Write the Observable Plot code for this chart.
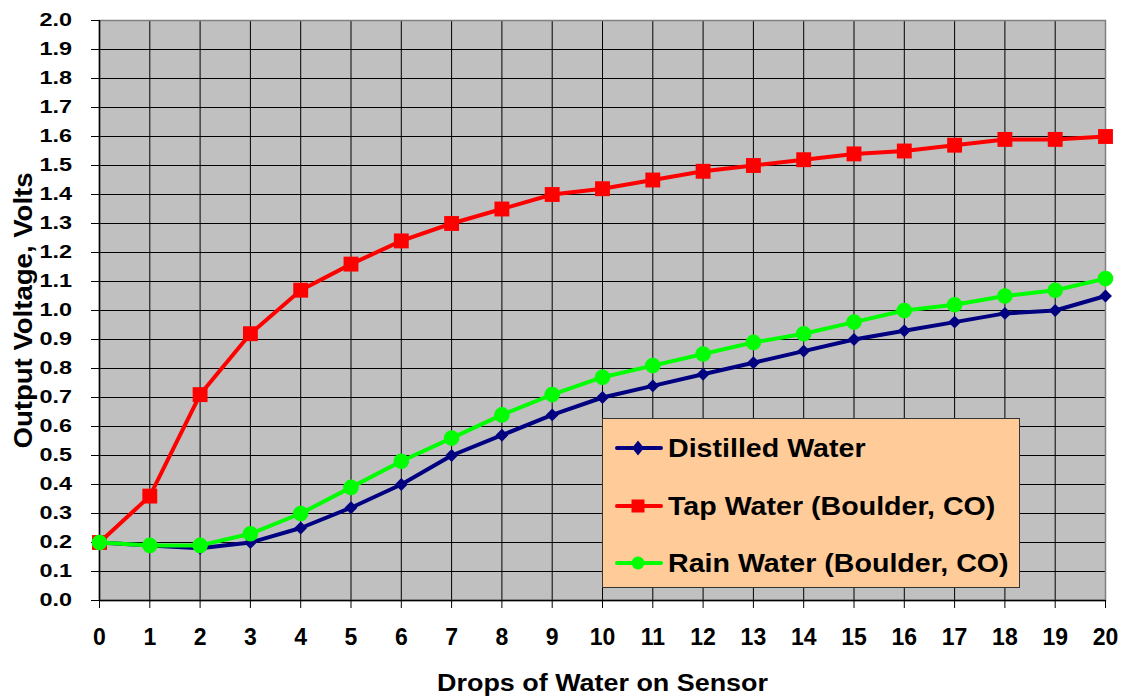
<!DOCTYPE html>
<html>
<head>
<meta charset="utf-8">
<script src="https://cdn.jsdelivr.net/npm/d3@7"></script>
<script src="https://cdn.jsdelivr.net/npm/@observablehq/plot@0.6"></script>
<style>
  html, body { margin: 0; padding: 0; background: #fff; }
  #wrap { position: relative; width: 1123px; height: 696px; font-family: Arial, "Liberation Sans", sans-serif; }
  #wrap svg { font-family: Arial, "Liberation Sans", sans-serif; }
  g[aria-label="y-axis tick label"] text { font-size: 18px; font-weight: bold; }
  g[aria-label="x-axis tick label"] text { font-size: 23px; font-weight: bold; }
  g[aria-label="x-axis label"] text { font-size: 23px; font-weight: bold; }
  g[aria-label="y-axis label"] text { font-size: 26px; font-weight: bold; }
  #legend { position: absolute; left: 602px; top: 418px; width: 418px; height: 170px; background: #FFCC99; border: 1.5px solid #333; box-sizing: border-box; font-weight: bold; font-size: 26px; color: #000; }
  #legend .row { position: absolute; left: 12px; height: 30px; display: flex; align-items: center; }
  #legend .row span { display: inline-block; transform: scaleX(1.1); transform-origin: left center; }
  #legend svg { margin-right: 5px; }
</style>
</head>
<body>
<div id="wrap"></div>
<script>
const drops = [0,1,2,3,4,5,6,7,8,9,10,11,12,13,14,15,16,17,18,19,20];
const distilled = [0.20,0.19,0.18,0.20,0.25,0.32,0.40,0.50,0.57,0.64,0.70,0.74,0.78,0.82,0.86,0.90,0.93,0.96,0.99,1.00,1.05];
const tap = [0.20,0.36,0.71,0.92,1.07,1.16,1.24,1.30,1.35,1.40,1.42,1.45,1.48,1.50,1.52,1.54,1.55,1.57,1.59,1.59,1.60];
const rain = [0.20,0.19,0.19,0.23,0.30,0.39,0.48,0.56,0.64,0.71,0.77,0.81,0.85,0.89,0.92,0.96,1.00,1.02,1.05,1.07,1.11];
const seriesNames = ["Distilled Water", "Tap Water (Boulder, CO)", "Rain Water (Boulder, CO)"];
const seriesColors = ["#000080", "#FF0000", "#00FF00"];
const seriesSymbols = ["diamond2", "square", "circle"];
const seriesR = [5.8, 8.4, 7.8];
const yTicks = d3.range(0, 21).map(i => i / 10);
const xTicks = drops;

const allSeries = [distilled, tap, rain];
const rows = [];
allSeries.forEach((vals, si) => vals.forEach((v, i) => rows.push({x: drops[i], y: v, s: si})));

const marks = [
  Plot.frame({fill: "#C0C0C0", stroke: null}),
  Plot.ruleY(yTicks, {stroke: "#000", strokeWidth: 1}),
  Plot.ruleX(xTicks, {stroke: "#000", strokeWidth: 1}),
  Plot.frame({stroke: "#808080", strokeWidth: 1.5}),
  Plot.ruleX([0], {stroke: "#000", strokeWidth: 1.5}),
  Plot.ruleY([0], {stroke: "#000", strokeWidth: 1.5}),
  Plot.axisY({ticks: yTicks, tickFormat: d3.format(".1f"), tickSize: 8, tickPadding: 19.5, label: "Output Voltage, Volts", labelAnchor: "center", labelArrow: "none", labelOffset: 86}),
  Plot.axisX({ticks: xTicks, tickFormat: d3.format("d"), tickSize: 8, tickPadding: 20, label: "Drops of Water on Sensor", labelAnchor: "center", labelArrow: "none", labelOffset: 90})
];
allSeries.forEach((vals, si) => {
  const d = rows.filter(r => r.s === si);
  marks.push(Plot.line(d, {x: "x", y: "y", stroke: seriesColors[si], strokeWidth: 4}));
  marks.push(Plot.dot(d, {x: "x", y: "y", symbol: () => seriesSymbols[si], fill: seriesColors[si], stroke: null, r: seriesR[si]}));
});

const chart = Plot.plot({
  width: 1123, height: 696,
  marginLeft: 99, marginRight: 18, marginTop: 20, marginBottom: 96,
  x: {domain: [0, 20]},
  y: {domain: [0, 2]},
  symbol: {type: "identity"},
  marks
});
document.getElementById("wrap").appendChild(chart);

function stretch(sel, factor) {
  chart.querySelectorAll(sel).forEach(t => {
    const L = t.getComputedTextLength();
    t.setAttribute("textLength", L * factor);
    t.setAttribute("lengthAdjust", "spacingAndGlyphs");
  });
}
stretch('g[aria-label="y-axis tick label"] text', 1.3);
stretch('g[aria-label="x-axis label"] text', 1.17);
stretch('g[aria-label="y-axis label"] text', 1.06);

// Legend
const legend = document.createElement("div");
legend.id = "legend";
const rowTops = [14, 72, 129];
seriesNames.forEach((name, i) => {
  const row = document.createElement("div");
  row.className = "row";
  row.style.top = rowTops[i] + "px";
  let shape;
  if (i === 0) shape = `<path d="M23,-7.5 L29,0 L23,7.5 L17,0 Z" fill="${seriesColors[i]}"/>`;
  else if (i === 1) shape = `<rect x="16.5" y="-6.5" width="13" height="13" fill="${seriesColors[i]}"/>`;
  else shape = `<circle cx="23" cy="0" r="6.5" fill="${seriesColors[i]}"/>`;
  row.innerHTML = `<svg width="48" height="18" viewBox="0 -9 48 18"><line x1="2" x2="46" y1="0" y2="0" stroke="${seriesColors[i]}" stroke-width="4" stroke-linecap="round"/>${shape}</svg><span>${name}</span>`;
  legend.appendChild(row);
});
document.getElementById("wrap").appendChild(legend);
</script>
</body>
</html>
